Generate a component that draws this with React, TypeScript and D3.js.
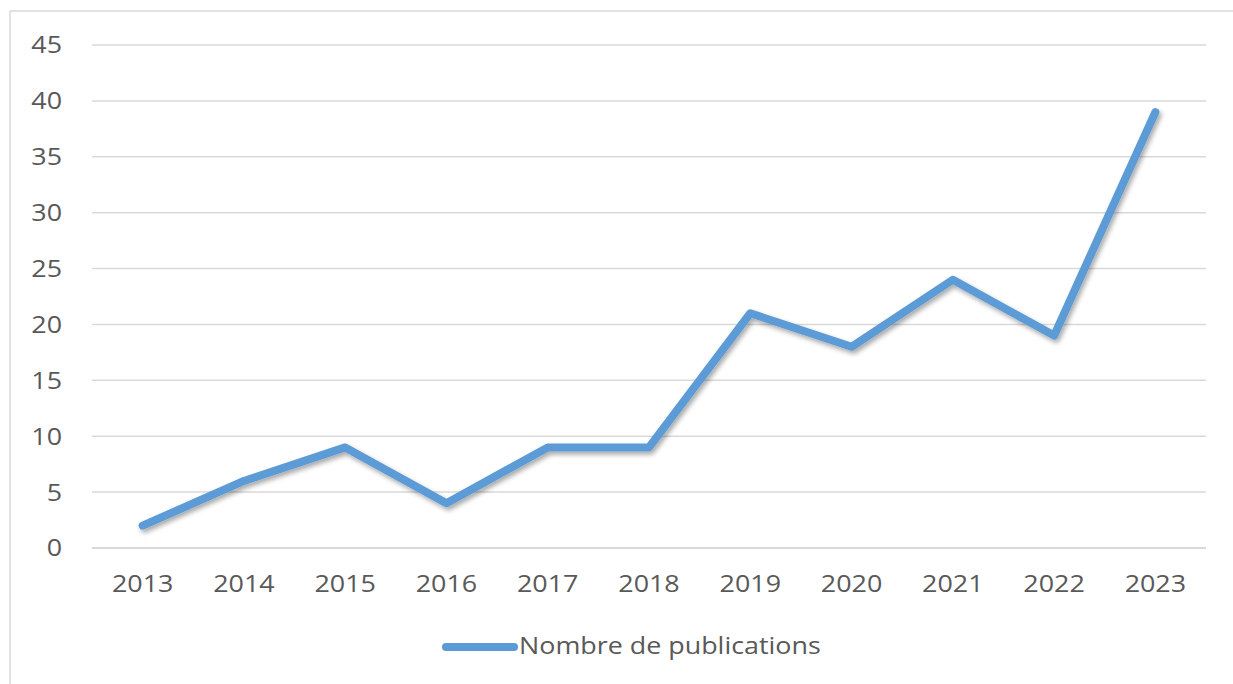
import React from 'react';
import * as d3 from 'd3';

const years = ['2013', '2014', '2015', '2016', '2017', '2018', '2019', '2020', '2021', '2022', '2023'];
const publications = [2, 6, 9, 4, 9, 9, 21, 18, 24, 19, 39];
const yTicks = [0, 5, 10, 15, 20, 25, 30, 35, 40, 45];
const seriesName = 'Nombre de publications';

const W = 1233;
const H = 684;
const margin = { top: 45, right: 27, bottom: 136, left: 92 };
const font = '"Open Sans", sans-serif';
const fontSize = 24;
const stretch = 1.12; // reference glyphs are a bit wider than Open Sans
const textColor = '#595959';
const lineColor = '#5B9BD5';

function Label({ x, y, anchor, children }: { x: number; y: number; anchor: string; children: React.ReactNode }) {
  return (
    <text
      transform={`translate(${x},${y}) scale(${stretch},1)`}
      dy="0.35em"
      textAnchor={anchor}
      fontFamily={font}
      fontSize={fontSize}
      fill={textColor}
    >
      {children}
    </text>
  );
}

export default function App() {
  const x = d3
    .scaleBand()
    .domain(years)
    .range([margin.left, W - margin.right]);
  const y = d3
    .scaleLinear()
    .domain([0, 45])
    .range([H - margin.bottom, margin.top]);

  const line = d3
    .line<number>()
    .x((_, i) => (x(years[i]) as number) + x.bandwidth() / 2)
    .y((d) => y(d));

  return (
    <svg width={W} height={H} style={{ position: 'absolute', left: 0, top: 0 }}>
      <defs>
        <filter id="shadow" x="-10%" y="-10%" width="120%" height="120%">
          <feGaussianBlur in="SourceAlpha" stdDeviation="2.5" />
          <feOffset dx="2" dy="3" result="blur" />
          <feComponentTransfer>
            <feFuncA type="linear" slope="0.35" />
          </feComponentTransfer>
          <feMerge>
            <feMergeNode />
            <feMergeNode in="SourceGraphic" />
          </feMerge>
        </filter>
      </defs>
      <rect x={0} y={0} width={W} height={H} fill="#fff" />
      {/* chart border (only top and left visible) */}
      <line x1={10} y1={11} x2={W} y2={11} stroke="#d9d9d9" strokeWidth={1.5} />
      <line x1={10} y1={11} x2={10} y2={H} stroke="#d9d9d9" strokeWidth={1.5} />

      {yTicks.map((t) => (
        <g key={t}>
          <line
            x1={margin.left}
            x2={W - margin.right}
            y1={y(t)}
            y2={y(t)}
            stroke="#d9d9d9"
            strokeWidth={t === 0 ? 2 : 1.5}
          />
          <Label x={62} y={y(t)} anchor="end">
            {t}
          </Label>
        </g>
      ))}

      {years.map((yr) => (
        <Label key={yr} x={(x(yr) as number) + x.bandwidth() / 2} y={H - margin.bottom + 36} anchor="middle">
          {yr}
        </Label>
      ))}

      <path
        d={line(publications) as string}
        fill="none"
        stroke={lineColor}
        strokeWidth={8}
        strokeLinecap="round"
        strokeLinejoin="round"
        filter="url(#shadow)"
      />

      <line x1={446} x2={514} y1={647} y2={647} stroke={lineColor} strokeWidth={8} strokeLinecap="round" />
      <Label x={519} y={646} anchor="start">
        {seriesName}
      </Label>
    </svg>
  );
}
